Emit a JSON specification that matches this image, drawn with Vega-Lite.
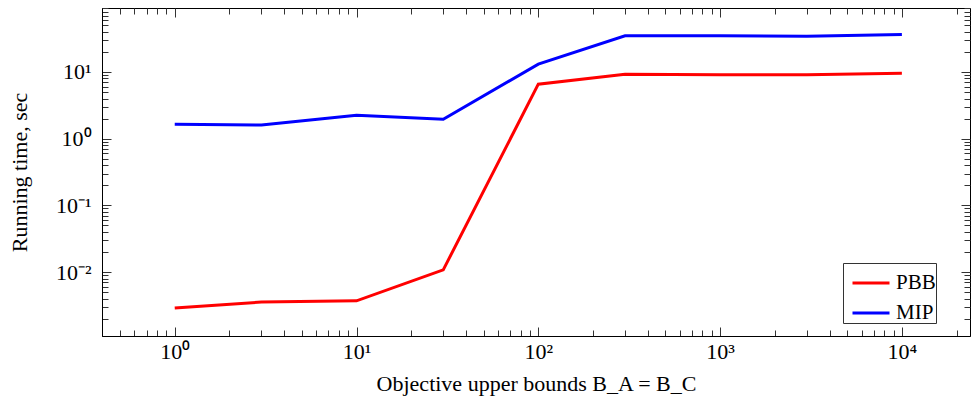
{
  "$schema": "https://vega.github.io/schema/vega-lite/v6.json",
  "width": 868,
  "height": 328,
  "autosize": "none",
  "padding": {"left": 102, "top": 8, "right": 1, "bottom": 70},
  "config": {
    "view": {"stroke": "black", "strokeWidth": 1},
    "font": "Liberation Serif",
    "axis": {
      "domainColor": "black",
      "tickColor": "#333333",
      "gridColor": "#c8c8c8",
      "gridWidth": 1,
      "labelFont": "Liberation Serif",
      "labelFontSize": 22,
      "labelColor": "black",
      "titleFont": "Liberation Serif",
      "titleFontSize": 22,
      "titleFontWeight": "normal",
      "titleColor": "black"
    }
  },
  "data": {
    "values": [
      {"bound": 1, "time": 0.00288, "method": "PBB"},
      {"bound": 3, "time": 0.00355, "method": "PBB"},
      {"bound": 10, "time": 0.0037, "method": "PBB"},
      {"bound": 30, "time": 0.0108, "method": "PBB"},
      {"bound": 100, "time": 6.56, "method": "PBB"},
      {"bound": 300, "time": 9.27, "method": "PBB"},
      {"bound": 1000, "time": 9.05, "method": "PBB"},
      {"bound": 3000, "time": 9.05, "method": "PBB"},
      {"bound": 10000, "time": 9.6, "method": "PBB"},
      {"bound": 1, "time": 1.64, "method": "MIP"},
      {"bound": 3, "time": 1.6, "method": "MIP"},
      {"bound": 10, "time": 2.24, "method": "MIP"},
      {"bound": 30, "time": 1.95, "method": "MIP"},
      {"bound": 100, "time": 13.1, "method": "MIP"},
      {"bound": 300, "time": 34.9, "method": "MIP"},
      {"bound": 1000, "time": 34.9, "method": "MIP"},
      {"bound": 3000, "time": 34.2, "method": "MIP"},
      {"bound": 10000, "time": 36.6, "method": "MIP"}
    ]
  },
  "layer": [
    {
      "mark": {"type": "line", "opacity": 0},
      "encoding": {
        "x": {
          "field": "bound", "type": "quantitative",
          "scale": {"type": "log", "domain": [0.398, 23700], "nice": false},
          "axis": {
            "orient": "top", "title": null, "labels": false, "grid": false, "domain": false,
            "values": [0.4,0.5,0.6,0.7,0.8,0.9,1,2,3,4,5,6,7,8,9,10,20,30,40,50,60,70,80,90,100,200,300,400,500,600,700,800,900,1000,2000,3000,4000,5000,6000,7000,8000,9000,10000,20000],
            "tickSize": {"condition": {"test": "abs(log(datum.value)/LN10 - round(log(datum.value)/LN10)) < 0.001", "value": -9}, "value": -6}
          }
        },
        "y": {
          "field": "time", "type": "quantitative",
          "scale": {"type": "log", "domain": [0.0011, 91], "nice": false},
          "axis": {
            "orient": "right", "title": null, "labels": false, "grid": false, "domain": false,
            "values": [0.002,0.003,0.004,0.005,0.006,0.007,0.008,0.009,0.01,0.02,0.03,0.04,0.05,0.06,0.07,0.08,0.09,0.1,0.2,0.3,0.4,0.5,0.6,0.7,0.8,0.9,1,2,3,4,5,6,7,8,9,10,20,30,40,50,60,70,80,90],
            "tickSize": {"condition": {"test": "abs(log(datum.value)/LN10 - round(log(datum.value)/LN10)) < 0.001", "value": -9}, "value": -6}
          }
        }
      }
    },
    {
      "mark": {"type": "line", "strokeWidth": 3, "clip": true},
      "encoding": {
        "x": {
          "field": "bound", "type": "quantitative",
          "scale": {"type": "log", "domain": [0.398, 23700], "nice": false},
          "axis": {
            "orient": "bottom",
            "title": "Objective upper bounds B_A = B_C",
            "titlePadding": 11,
            "labelPadding": 14,
            "labelFontSize": 22,
            "values": [0.4,0.5,0.6,0.7,0.8,0.9,1,2,3,4,5,6,7,8,9,10,20,30,40,50,60,70,80,90,100,200,300,400,500,600,700,800,900,1000,2000,3000,4000,5000,6000,7000,8000,9000,10000,20000],
            "tickSize": {"condition": {"test": "abs(log(datum.value)/LN10 - round(log(datum.value)/LN10)) < 0.001", "value": -9}, "value": -6},
            "gridOpacity": {"condition": {"test": "abs(log(datum.value)/LN10 - round(log(datum.value)/LN10)) < 0.001", "value": 1}, "value": 0},
            "labelExpr": "abs(log(datum.value)/LN10 - round(log(datum.value)/LN10)) < 0.001 ? '10' + ['⁻²','⁻¹','⁰','¹','²','³','⁴','⁵'][round(log(datum.value)/LN10)+2] : ''"
          }
        },
        "y": {
          "field": "time", "type": "quantitative",
          "scale": {"type": "log", "domain": [0.0011, 91], "nice": false},
          "axis": {
            "orient": "left",
            "title": "Running time, sec",
            "titlePadding": 24,
            "labelPadding": 20,
            "labelFontSize": 22,
            "values": [0.002,0.003,0.004,0.005,0.006,0.007,0.008,0.009,0.01,0.02,0.03,0.04,0.05,0.06,0.07,0.08,0.09,0.1,0.2,0.3,0.4,0.5,0.6,0.7,0.8,0.9,1,2,3,4,5,6,7,8,9,10,20,30,40,50,60,70,80,90],
            "tickSize": {"condition": {"test": "abs(log(datum.value)/LN10 - round(log(datum.value)/LN10)) < 0.001", "value": -9}, "value": -6},
            "gridOpacity": {"condition": {"test": "abs(log(datum.value)/LN10 - round(log(datum.value)/LN10)) < 0.001", "value": 1}, "value": 0},
            "labelExpr": "abs(log(datum.value)/LN10 - round(log(datum.value)/LN10)) < 0.001 ? '10' + ['⁻²','⁻¹','⁰','¹','²','³','⁴','⁵'][round(log(datum.value)/LN10)+2] : ''"
          }
        },
        "color": {
          "field": "method", "type": "nominal",
          "scale": {"domain": ["PBB", "MIP"], "range": ["#ff0000", "#0000ff"]},
          "legend": {
            "orient": "none",
            "legendX": 741,
            "legendY": 255,
            "title": null,
            "symbolType": "stroke",
            "symbolSize": 1369,
            "symbolStrokeWidth": 3,
            "symbolOffset": 8,
            "labelFontSize": 21,
            "labelFont": "Liberation Serif",
            "labelColor": "black",
            "labelOffset": 5,
            "labelExpr": "datum.label + '\u00a0\u00a0\u00a0'",
            "rowPadding": -10,
            "padding": 0,
            "strokeColor": "#333333",
            "fillColor": "white"
          }
        }
      }
    }
  ],
  "resolve": {"axis": {"x": "independent", "y": "independent"}}
}
